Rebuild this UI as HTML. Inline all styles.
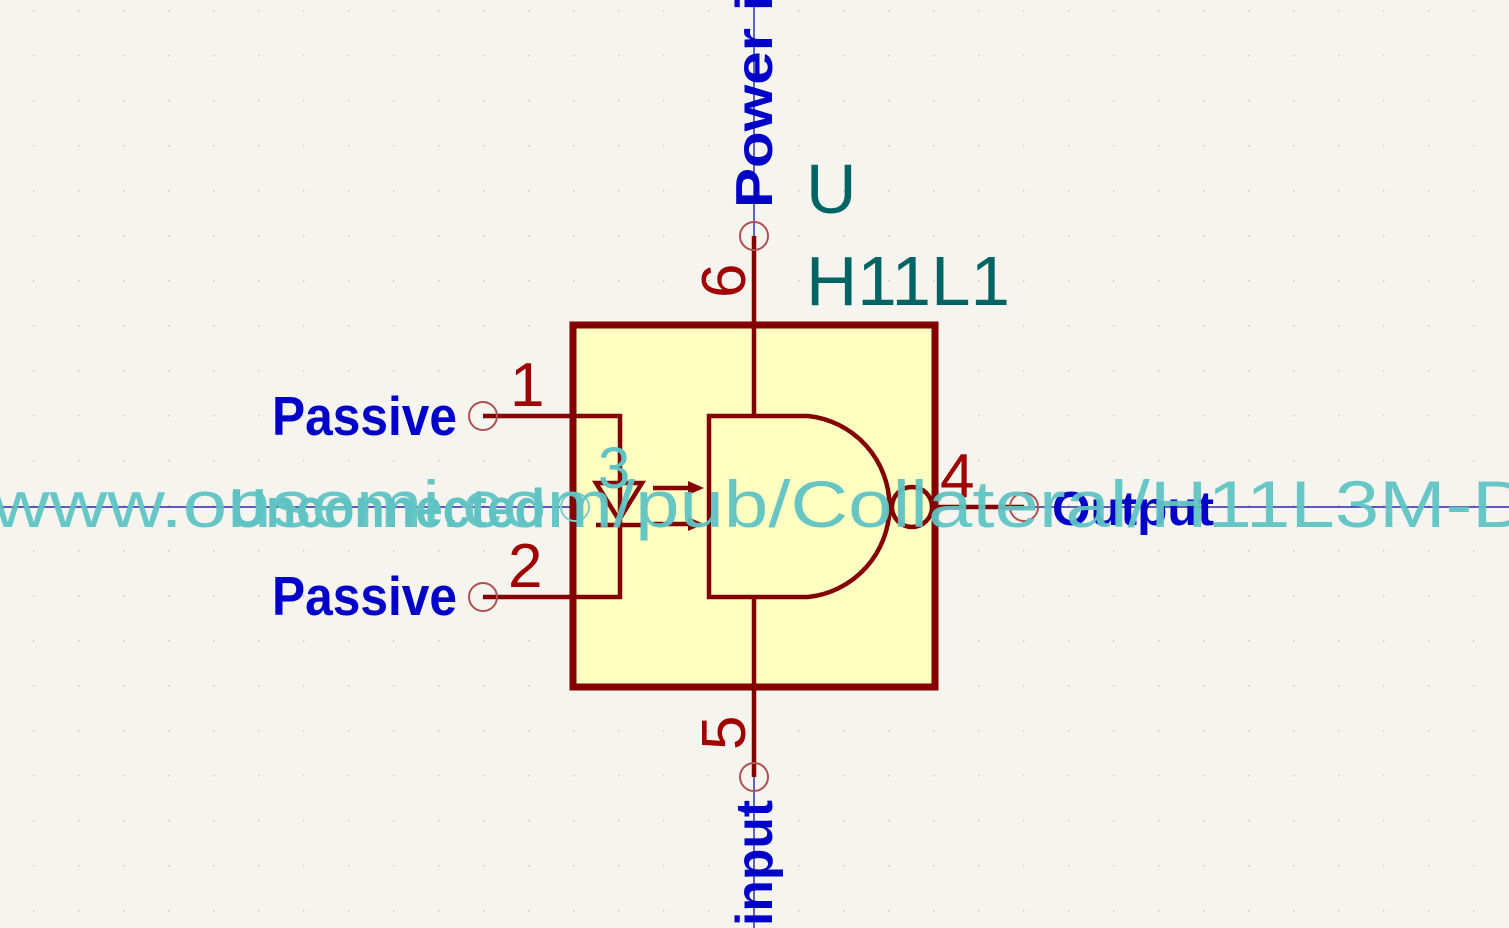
<!DOCTYPE html>
<html><head><meta charset="utf-8"><style>
html,body{margin:0;padding:0;background:#f5f4ef;}
svg{display:block}
</style></head><body>
<svg width="1509" height="928" viewBox="0 0 1509 928" xmlns="http://www.w3.org/2000/svg">
<rect width="1509" height="928" fill="#f5f4ef"/>
<g id="grid" fill="#c8c8c0"></g>
<line x1="0" y1="507" x2="1509" y2="507" stroke="#0000a0" stroke-width="1.2"/>
<line x1="754" y1="0" x2="754" y2="928" stroke="#0000a0" stroke-width="1.2"/>

<rect x="573" y="325" width="362" height="362" fill="#ffffc2" stroke="#840000" stroke-width="7"/>
<g stroke="#840000" stroke-width="4.5" fill="none">
  <polyline points="483,416 620,416 620,597 483,597"/>
  <line x1="754" y1="236" x2="754" y2="416"/>
  <line x1="754" y1="597" x2="754" y2="777"/>
  <polygon points="596,483 642,483 619,520"/>
  <line x1="596" y1="525" x2="642" y2="525"/>
  <line x1="653" y1="488" x2="690" y2="488"/>
  <line x1="653" y1="524" x2="690" y2="524"/>
  <path d="M709,416 H808 A91,91 0 0 1 808,597 H709 Z"/>
  <circle cx="912" cy="507" r="20"/>
  <line x1="935" y1="507" x2="1024" y2="507"/>
</g>
<polygon points="688,481 704,488 688,495" fill="#840000"/>
<polygon points="688,517 704,524 688,531" fill="#840000"/>
<g stroke="#b05050" stroke-width="2" fill="none">
  <circle cx="483" cy="416" r="14"/>
  <circle cx="483" cy="597" r="14"/>
  <circle cx="754" cy="236" r="14"/>
  <circle cx="754" cy="777" r="14"/>
  <circle cx="1024" cy="507" r="14"/>
</g>
<circle cx="575" cy="507" r="14" stroke="#80cccc" stroke-width="2" fill="none"/>

<g font-family="Liberation Sans, sans-serif">
<text x="806" y="213" font-size="70" fill="#006464">U</text>
<text x="806" y="305" font-size="70" fill="#006464" textLength="204" lengthAdjust="spacingAndGlyphs">H11L1</text>

<text x="510" y="406" font-size="62" fill="#a00000">1</text>
<text x="508" y="587" font-size="62" fill="#a00000">2</text>
<text x="940" y="497" font-size="62" fill="#a00000">4</text>
<text transform="translate(745,298) rotate(-90)" font-size="62" fill="#a00000">6</text>
<text transform="translate(745,750) rotate(-90)" font-size="62" fill="#a00000">5</text>

<text x="272" y="435" font-size="55" font-weight="bold" fill="#0000c8" textLength="185" lengthAdjust="spacingAndGlyphs">Passive</text>
<text x="272" y="615" font-size="55" font-weight="bold" fill="#0000c8" textLength="185" lengthAdjust="spacingAndGlyphs">Passive</text>
<text x="1052" y="525" font-size="48" font-weight="bold" fill="#0000c8" textLength="162" lengthAdjust="spacingAndGlyphs">Output</text>
<text transform="translate(772,208) rotate(-90)" font-size="52" font-weight="bold" fill="#0000c8" textLength="250" lengthAdjust="spacingAndGlyphs">Power in</text>
<text transform="translate(772,926) rotate(-90)" font-size="52" font-weight="bold" fill="#0000c8" textLength="126" lengthAdjust="spacingAndGlyphs">input</text>

<text x="230" y="527" font-size="55" font-weight="bold" fill="#5fc3c3" textLength="315" lengthAdjust="spacingAndGlyphs">Unconnected</text>
<text x="598" y="488" font-size="58" fill="#5fc3c3">3</text>
<text x="-8" y="527" font-size="66" fill="#5fc3c3" fill-opacity="0.95" textLength="1560" lengthAdjust="spacingAndGlyphs">www.onsemi.com/pub/Collateral/H11L3M-D.</text>
</g>
</svg>
<script>
const g=document.getElementById('grid');
for(let x=33;x<1509;x+=45){for(let y=10;y<928;y+=45){
const c=document.createElementNS('http://www.w3.org/2000/svg','rect');
c.setAttribute('x',x);c.setAttribute('y',y);c.setAttribute('width',1.5);c.setAttribute('height',1.5);


g.appendChild(c);}}
</script>
</body></html>
